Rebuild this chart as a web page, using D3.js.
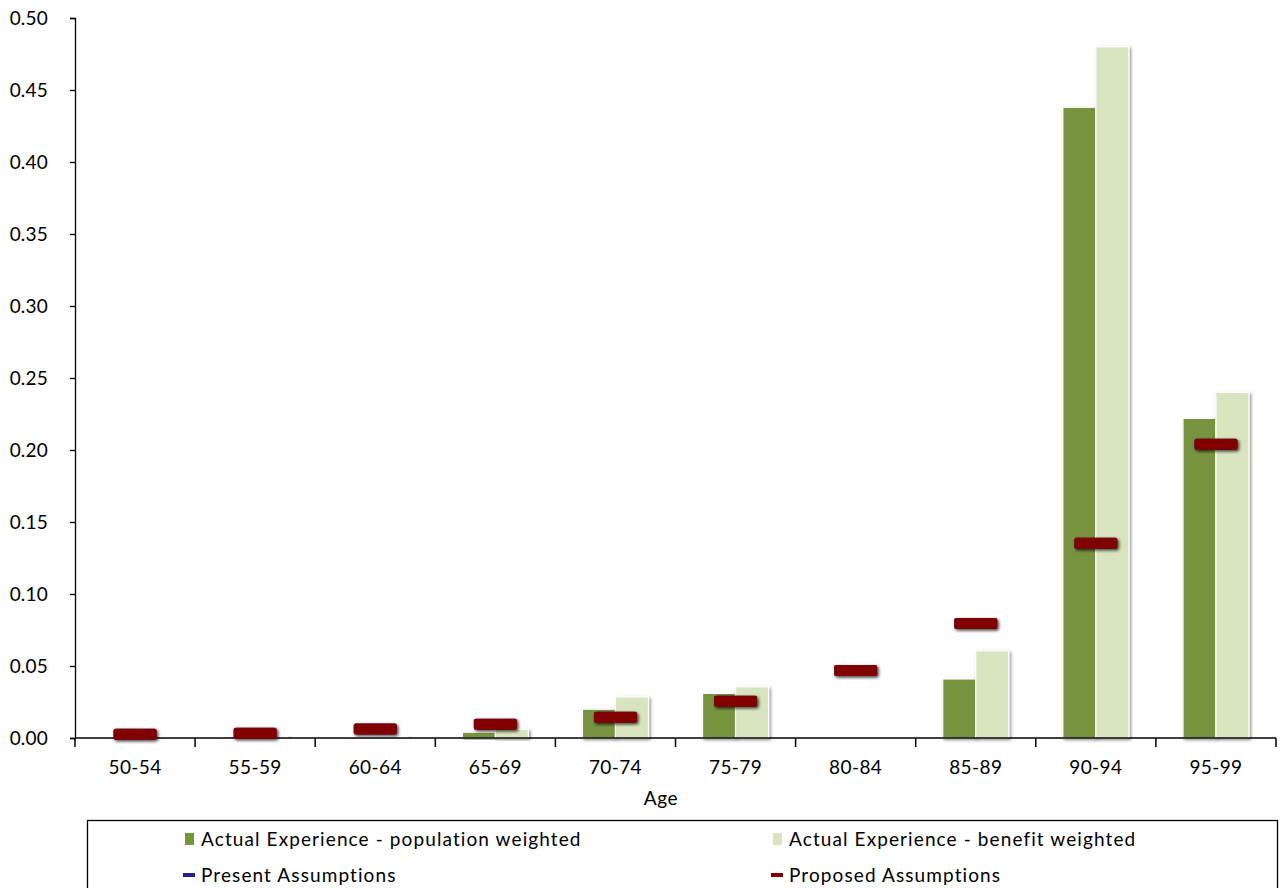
<!DOCTYPE html>
<html><head><meta charset="utf-8">
<script src="https://cdn.jsdelivr.net/npm/d3@7"></script>
<style>body{margin:0;background:#fff;} svg{display:block;}</style>
</head><body>
<svg id="c" width="1284" height="888"></svg>
<script>
const categories = ["50-54","55-59","60-64","65-69","70-74","75-79","80-84","85-89","90-94","95-99"];
const populationWeighted = [0, 0.001, 0.0005, 0.004, 0.020, 0.031, 0, 0.041, 0.438, 0.222];
const benefitWeighted    = [0, 0.001, 0.001, 0.006, 0.0285, 0.0355, 0, 0.0605, 0.480, 0.240];
const presentAssumptions = [0.0026, 0.0033, 0.0063, 0.0095, 0.0144, 0.0255, 0.0469, 0.0795, 0.1352, 0.204];
const proposedAssumptions = [0.0026, 0.0033, 0.0063, 0.0095, 0.0144, 0.0255, 0.0469, 0.0795, 0.1352, 0.204];
const yTicks = [0,0.05,0.10,0.15,0.20,0.25,0.30,0.35,0.40,0.45,0.50];
const seriesNames = ["Actual Experience - population weighted","Actual Experience - benefit weighted","Present Assumptions","Proposed Assumptions"];
const colors = {pop:"#77933C", ben:"#D7E4BD", present:"#1F1F8F", proposed:"#800000"};

const font = "Lato, 'Open Sans', sans-serif";
const svg = d3.select("#c");
const defs = svg.append("defs");
const f = defs.append("filter").attr("id","sh").attr("x","-30%").attr("y","-30%").attr("width","160%").attr("height","160%");
f.append("feDropShadow").attr("dx",1.5).attr("dy",1.5).attr("stdDeviation",1.8).attr("flood-color","#000").attr("flood-opacity",0.45);

const x = d3.scaleBand().domain(categories).range([75,1276]);
const y = d3.scaleLinear().domain([0,0.5]).range([738,18]);
const inner = d3.scaleBand().domain(["pop","ben"]).range([0, 66]);
const off = (x.bandwidth()-66)/2;

const bars = svg.append("g");
categories.forEach((c,i)=>{
  [["pop",populationWeighted[i]],["ben",benefitWeighted[i]]].forEach(([k,v])=>{
    if(v<=0) return;
    bars.append("rect")
      .attr("x", x(c)+off+inner(k))
      .attr("y", y(v))
      .attr("width", inner.bandwidth())
      .attr("height", y(0)-y(v))
      .attr("fill", colors[k])
      .attr("stroke","#fff").attr("stroke-width",1.2)
      .attr("filter","url(#sh)");
  });
});

const yAxis = d3.axisLeft(y).tickValues(yTicks).tickFormat(d3.format(".2f")).tickSize(5).tickPadding(22);
const ya = svg.append("g").attr("transform","translate(75,0)").call(yAxis);
ya.select(".domain").attr("stroke","#000").attr("stroke-width",1.3);
ya.selectAll(".tick line").attr("stroke","#000").attr("stroke-width",1.3);
ya.selectAll("text").attr("font-family",font).attr("font-size",19).attr("letter-spacing",0.2).attr("fill","#000");

const xa = svg.append("g").attr("transform","translate(0,738)");
xa.append("line").attr("x1",x.range()[0]).attr("x2",x.range()[1]).attr("stroke","#000").attr("stroke-width",1.5);
const bounds = categories.map(c=>x(c)).concat([x.range()[1]]);
xa.selectAll("line.t").data(bounds).enter().append("line").attr("class","t")
  .attr("x1",d=>d).attr("x2",d=>d).attr("y1",0).attr("y2",9).attr("stroke","#000").attr("stroke-width",1.5);
xa.selectAll("text").data(categories).enter().append("text")
  .attr("x",d=>x(d)+x.bandwidth()/2).attr("y",36).attr("text-anchor","middle")
  .attr("font-family",font).attr("font-size",19).attr("letter-spacing",0.4).text(d=>d);
svg.append("text").attr("x",661).attr("y",805).attr("text-anchor","middle")
  .attr("font-family",font).attr("font-size",19).attr("letter-spacing",0.6).text("Age");

function markers(vals,color){
  svg.append("g").selectAll("rect").data(categories).enter().append("rect")
    .attr("x",d=>x(d)+x.bandwidth()/2-21.5)
    .attr("y",(d,i)=>y(vals[i])-5.5)
    .attr("width",43).attr("height",11).attr("rx",2)
    .attr("fill",color).attr("filter","url(#sh)");
}
markers(presentAssumptions, colors.present);
markers(proposedAssumptions, colors.proposed);

const lg = svg.append("g");
lg.append("rect").attr("x",87.5).attr("y",820.5).attr("width",1190).attr("height",100)
  .attr("fill","#fff").attr("stroke","#000").attr("stroke-width",1.3);
const items = [
  {name:seriesNames[0], color:colors.pop, type:"sq", x:185, y:839},
  {name:seriesNames[1], color:colors.ben, type:"sq", x:773, y:839},
  {name:seriesNames[2], color:colors.present, type:"ln", x:185, y:875},
  {name:seriesNames[3], color:colors.proposed, type:"ln", x:773, y:875}
];
items.forEach(it=>{
  if(it.type==="sq") lg.append("rect").attr("x",it.x).attr("y",it.y-6).attr("width",9).attr("height",12).attr("fill",it.color);
  else lg.append("rect").attr("x",it.x-2).attr("y",it.y-2).attr("width",12).attr("height",4).attr("fill",it.color);
  lg.append("text").attr("x",it.x+16).attr("y",it.y+6.5).attr("font-family",font).attr("font-size",19).attr("letter-spacing",1.1).text(it.name);
});
</script>
</body></html>
